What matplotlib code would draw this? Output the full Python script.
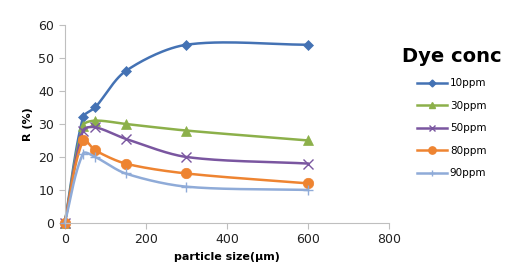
import numpy as np
import matplotlib.pyplot as plt

size = [0, 45, 75, 150, 300, 600]
ppm10 = [0, 32, 35, 46, 54, 54]
ppm30 = [0, 29.5, 31, 30, 28, 25]
ppm50 = [0, 28, 29, 25.5, 20, 18]
ppm80 = [0, 25, 22, 18, 15, 12]
ppm90 = [0, 21, 20, 15, 11, 10]
labels = ['10ppm', '30ppm', '50ppm', '80ppm', '90ppm']

# pixels per data unit, so the smoothing is done in screen space like excel
SX, SY = 324 / 800, 198 / 60


def unit(v):
    n = np.hypot(v[0], v[1])
    return v / n if n > 0 else v


def smooth(x, y, n=30, k=0.3):
    x = np.asarray(x, float) * SX
    y = np.asarray(y, float) * SY
    xs, ys = [], []
    for i in range(len(x) - 1):
        p0 = np.array([x[max(i - 1, 0)], y[max(i - 1, 0)]])
        p1 = np.array([x[i], y[i]])
        p2 = np.array([x[i + 1], y[i + 1]])
        p3 = np.array([x[min(i + 2, len(x) - 1)], y[min(i + 2, len(x) - 1)]])
        L = np.hypot(*(p2 - p1))
        c1 = p1 + unit(p2 - p0) * L * k
        c2 = p2 - unit(p3 - p1) * L * k
        t = np.linspace(0, 1, n)[:, None]
        pts = (1 - t) ** 3 * p1 + 3 * (1 - t) ** 2 * t * c1 + 3 * (1 - t) * t ** 2 * c2 + t ** 3 * p2
        xs.extend(pts[:, 0] / SX)
        ys.extend(pts[:, 1] / SY)
    return xs, ys


fig = plt.figure(figsize=(5.1, 2.77), dpi=100)
ax = fig.add_axes([0.127, 0.195, 0.636, 0.715])

series = [ppm10, ppm30, ppm50, ppm80, ppm90]
colors = ['#4472b4', '#8cb04a', '#7a56a0', '#ee8431', '#8fabd8']
markers = ['D', '^', 'x', 'o', '+']
msizes = [5, 6.5, 7, 7.5, 7]

for vals, lab, c, m, ms in zip(series, labels, colors, markers, msizes):
    sx, sy = smooth(size, vals)
    ax.plot(sx, sy, color=c, lw=1.8, clip_on=False)
    ax.plot(size, vals, linestyle='none', marker=m, color=c, ms=ms, clip_on=False,
            markeredgewidth=1.0 if m in 'x+' else 0.5)
    ax.plot([], [], color=c, lw=1.8, marker=m, ms=ms * 0.7, label=lab)

ax.set_xlim(0, 800)
ax.set_ylim(0, 60)
ax.set_xticks([0, 200, 400, 600, 800])
ax.set_yticks(range(0, 61, 10))
ax.set_xlabel('particle size(μm)', fontsize=8, fontweight='bold')
ax.set_ylabel('R (%)', fontsize=8, fontweight='bold')
ax.tick_params(labelsize=9, color='#bfbfbf', length=4, labelcolor='#222222')
for s in ['top', 'right']:
    ax.spines[s].set_visible(False)
for s in ['left', 'bottom']:
    ax.spines[s].set_color('#bfbfbf')

leg = fig.legend(loc='upper left', bbox_to_anchor=(0.77, 0.865), frameon=False,
                 fontsize=7.5, title='Dye conc', labelspacing=1.2, handlelength=2.8,
                 handletextpad=0.3)
leg.get_title().set_fontsize(14)
leg.get_title().set_fontweight('bold')

fig.savefig('out.png')
